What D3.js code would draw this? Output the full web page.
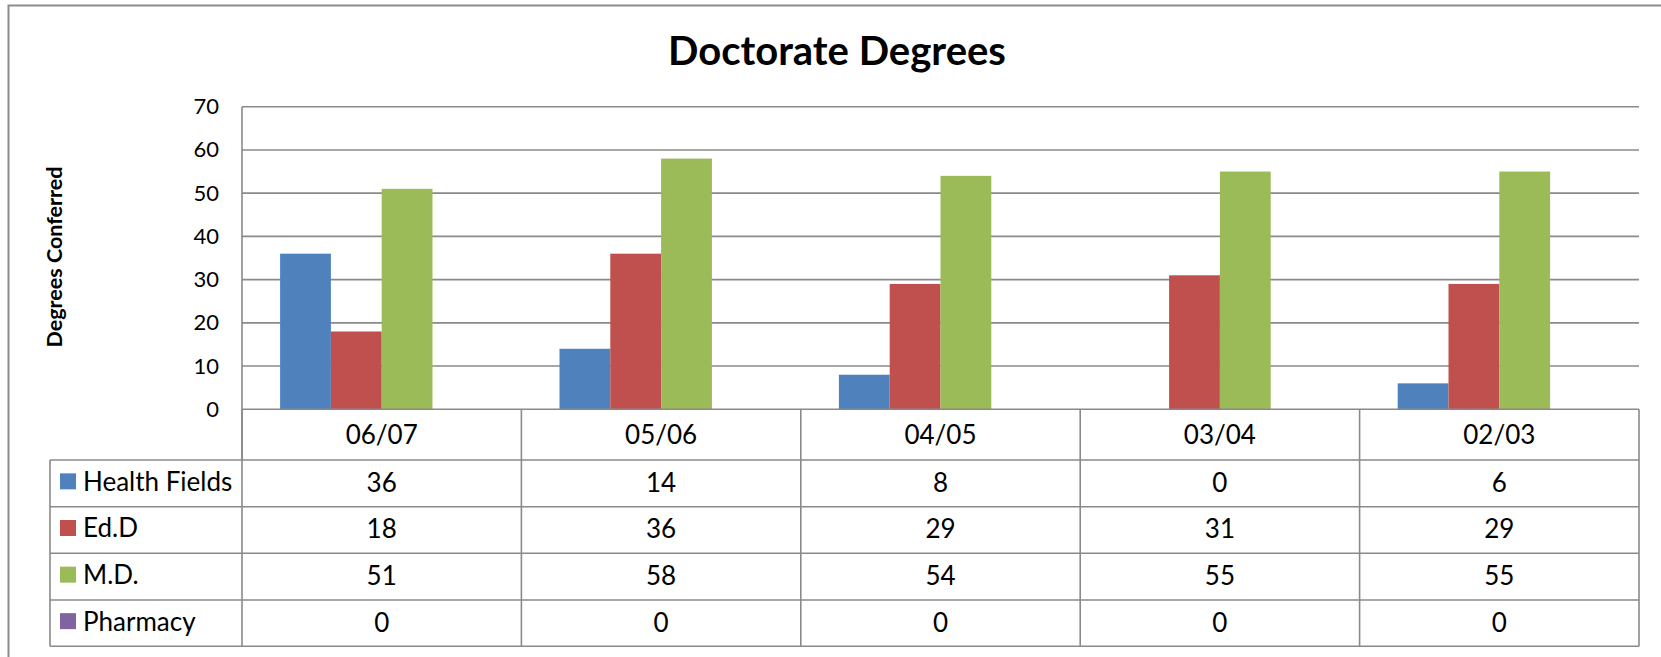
<!DOCTYPE html>
<html><head><meta charset="utf-8">
<script src="https://cdn.jsdelivr.net/npm/d3@7/dist/d3.min.js"></script>
<style>
html,body{margin:0;padding:0;background:#fff;overflow:hidden}
text{font-family:Lato,"Open Sans",sans-serif;fill:#000}
</style></head>
<body><svg id="c" width="1661" height="657"></svg>
<script>
const categories = ["06/07","05/06","04/05","03/04","02/03"];
const seriesNames = ["Health Fields","Ed.D","M.D.","Pharmacy"];
const healthFields = [36,14,8,0,6];
const edD = [18,36,29,31,29];
const md = [51,58,54,55,55];
const pharmacy = [0,0,0,0,0];
const yTicks = [0,10,20,30,40,50,60,70];
const colors = ["#4F81BD","#C0504D","#9BBB59","#8064A2"];
const seriesValues = [healthFields, edD, md, pharmacy];

(function(){
const svg = d3.select("#c");
const pLeft = 242, pRight = 1639, pTop = 106.7, pBottom = 409.3;
const tableLeft = 50;
const rowTops = [460, 506.7, 553.3, 600, 646.3];
const grid = "#8a8a8a";

// outer border
svg.append("rect").attr("x",8.5).attr("y",5.5).attr("width",1700).attr("height",700)
  .attr("fill","#fff").attr("stroke","#8c8c8c").attr("stroke-width",2);

// title
svg.append("text").attr("x",837).attr("y",65).attr("text-anchor","middle")
  .style("font-size","40px").style("font-weight","bold").text("Doctorate Degrees");

// y label
svg.append("text").attr("transform","translate(62,257) rotate(-90)")
  .attr("text-anchor","middle").style("font-size","21.5px").style("font-weight","bold")
  .text("Degrees Conferred");

const x0 = d3.scaleBand().domain(categories).range([pLeft,pRight]).paddingInner(0).paddingOuter(0);
const x1 = d3.scaleBand().domain(seriesNames).range([0,x0.bandwidth()]).paddingInner(0).paddingOuter(0.75);
const y = d3.scaleLinear().domain([0,70]).range([pBottom,pTop]);

// gridlines
svg.append("g").selectAll("line").data(yTicks.filter(d=>d>0)).join("line")
  .attr("x1",pLeft).attr("x2",pRight).attr("y1",d=>y(d)).attr("y2",d=>y(d))
  .attr("stroke",grid).attr("stroke-width",1.6);

// y axis
const yAxis = d3.axisLeft(y).tickValues(yTicks).tickSize(0).tickPadding(23);
const ya = svg.append("g").attr("transform",`translate(${pLeft},0)`).call(yAxis);
ya.select(".domain").remove();
ya.selectAll("text").style("font-size","22px").style("font-family","Lato,'Open Sans',sans-serif").attr("fill","#000");
svg.append("line").attr("x1",pLeft).attr("x2",pLeft).attr("y1",pTop).attr("y2",rowTops[0])
  .attr("stroke",grid).attr("stroke-width",1.6);

// bars
const flat = [];
categories.forEach((c,i)=>seriesNames.forEach((s,j)=>flat.push({c,s,v:seriesValues[j][i],j})));
svg.append("g").selectAll("rect").data(flat).join("rect")
  .attr("x",d=>x0(d.c)+x1(d.s)).attr("width",x1.bandwidth())
  .attr("y",d=>y(d.v)).attr("height",d=>y(0)-y(d.v))
  .attr("fill",d=>colors[d.j]);

// axis line (bottom)
svg.append("line").attr("x1",pLeft).attr("x2",pRight).attr("y1",pBottom).attr("y2",pBottom)
  .attr("stroke",grid).attr("stroke-width",1.6);

// data table
const tg = svg.append("g");
const bounds = categories.map(c=>x0(c)).concat([pRight]);
tg.selectAll("line.v").data(bounds).join("line").attr("class","v")
  .attr("x1",d=>d).attr("x2",d=>d).attr("y1",pBottom).attr("y2",rowTops[4])
  .attr("stroke",grid).attr("stroke-width",1.6);
tg.append("line").attr("x1",tableLeft).attr("x2",tableLeft).attr("y1",rowTops[0]).attr("y2",rowTops[4])
  .attr("stroke",grid).attr("stroke-width",1.6);
tg.selectAll("line.h").data(rowTops).join("line").attr("class","h")
  .attr("x1",tableLeft).attr("x2",pRight).attr("y1",d=>d).attr("y2",d=>d)
  .attr("stroke",grid).attr("stroke-width",1.6);

// category labels
tg.selectAll("text.cat").data(categories).join("text").attr("class","cat")
  .attr("x",d=>x0(d)+x0.bandwidth()/2).attr("y",(pBottom+rowTops[0])/2).attr("dy","0.36em")
  .attr("text-anchor","middle").style("font-size","26px").text(d=>d);

// series rows
seriesNames.forEach((s,j)=>{
  const cy = (rowTops[j]+rowTops[j+1])/2;
  tg.append("rect").attr("x",60).attr("y",cy-10).attr("width",16).attr("height",16).attr("fill",colors[j]);
  tg.append("text").attr("x",83).attr("y",cy-2).attr("dy","0.36em").style("font-size","26px").text(s);
  tg.selectAll(null).data(seriesValues[j]).join("text")
    .attr("x",(d,i)=>x0(categories[i])+x0.bandwidth()/2).attr("y",cy-1).attr("dy","0.36em")
    .attr("text-anchor","middle").style("font-size","26px").text(d=>d);
});
})();
</script></body></html>
